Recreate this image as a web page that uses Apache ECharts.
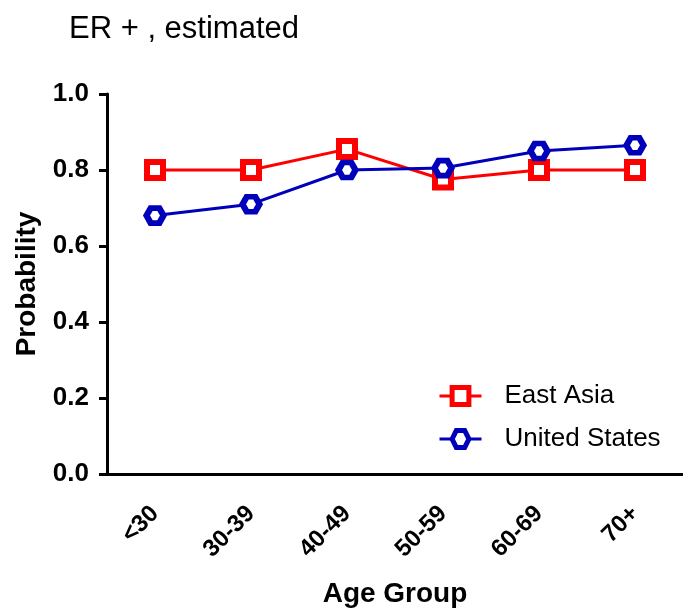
<!DOCTYPE html>
<html>
<head>
<meta charset="utf-8">
<script src="https://cdn.jsdelivr.net/npm/echarts@6/dist/echarts.min.js"></script>
<style>
html,body{margin:0;padding:0;background:#fff;}
#chart{width:683px;height:609px;}
</style>
</head>
<body>
<div id="chart"></div>
<script>
const categories = ['<30', '30-39', '40-49', '50-59', '60-69', '70+'];
const eastAsia = [0.80, 0.80, 0.855, 0.775, 0.80, 0.80];
const unitedStates = [0.68, 0.71, 0.80, 0.805, 0.85, 0.865];
const yTicks = [0, 0.2, 0.4, 0.6, 0.8, 1.0];

const FONT = 'Liberation Sans, Arial, sans-serif';
const RED = '#ff0000';
const BLUE = '#0000bb';
const hexPath = 'path://M0,6 L3.5,0 L10.5,0 L14,6 L10.5,12 L3.5,12 Z';

const chart = echarts.init(document.getElementById('chart'));
chart.setOption({
  animation: false,
  backgroundColor: '#fff',
  title: {
    text: 'ER + , estimated',
    left: 64, top: 9,
    textStyle: {fontFamily: FONT, fontSize: 31, fontWeight: 'normal', color: '#000'}
  },
  legend: {
    orient: 'vertical',
    left: 433, top: 378,
    itemWidth: 42, itemHeight: 21, itemGap: 17,
    itemStyle: {borderWidth: 5},
    lineStyle: {width: 3},
    textStyle: {fontFamily: FONT, fontSize: 26, color: '#000', padding: [0, 0, 0, 18]},
    data: ['East Asia', 'United States']
  },
  grid: {left: 107, right: 0, top: 94, bottom: 135, containLabel: false, outerBoundsMode: 'none'},
  xAxis: {
    type: 'category',
    data: categories,
    boundaryGap: true,
    axisLine: {lineStyle: {color: '#000', width: 3}},
    axisTick: {alignWithLabel: true, length: 10, lineStyle: {color: '#000', width: 3}},
    axisLabel: {rotate: 45, margin: 36, fontFamily: FONT, fontSize: 24, fontWeight: 'bold', color: '#000'},
    name: 'Age Group',
    nameLocation: 'middle',
    nameGap: 106,
    nameTextStyle: {fontFamily: FONT, fontSize: 28, fontWeight: 'bold', color: '#000'}
  },
  yAxis: {
    type: 'value',
    min: yTicks[0], max: yTicks[yTicks.length - 1], interval: 0.2,
    splitLine: {show: false},
    axisLine: {show: true, lineStyle: {color: '#000', width: 3}},
    axisTick: {show: true, length: 8, lineStyle: {color: '#000', width: 3}},
    axisLabel: {margin: 18, fontFamily: FONT, fontSize: 26, fontWeight: 'bold', color: '#000',
      formatter: v => v.toFixed(1)},
    name: 'Probability',
    nameLocation: 'middle',
    nameGap: 66,
    nameTextStyle: {fontFamily: FONT, fontSize: 28, fontWeight: 'bold', color: '#000'}
  },
  series: [
    {
      name: 'East Asia', type: 'line', data: eastAsia,
      symbol: 'rect', symbolSize: 16,
      lineStyle: {color: RED, width: 3},
      itemStyle: {color: '#fff', borderColor: RED, borderWidth: 6},
      z: 3
    },
    {
      name: 'United States', type: 'line', data: unitedStates,
      symbol: hexPath, symbolSize: [17, 15],
      lineStyle: {color: BLUE, width: 3},
      itemStyle: {color: '#fff', borderColor: BLUE, borderWidth: 6},
      z: 4
    }
  ]
});
</script>
</body>
</html>
